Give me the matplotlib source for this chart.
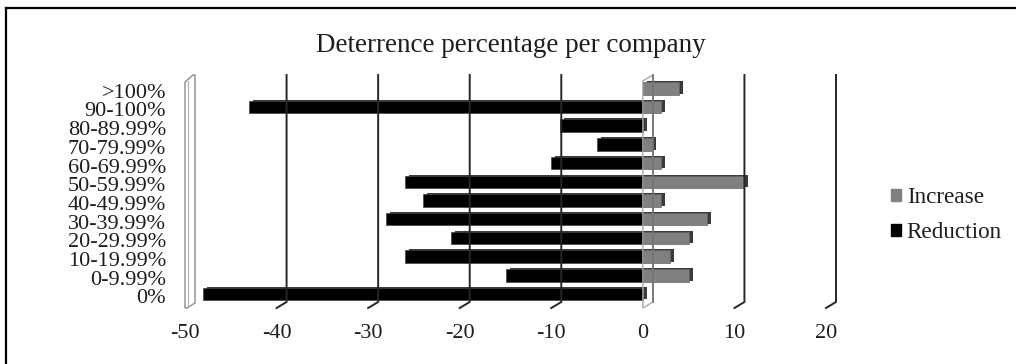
import matplotlib.pyplot as plt
from matplotlib.lines import Line2D
from matplotlib.patches import Patch, Polygon
from matplotlib.transforms import IdentityTransform, ScaledTranslation

# deterrence bands, bottom to top
categories = ["0%", "0-9.99%", "10-19.99%", "20-29.99%", "30-39.99%", "40-49.99%",
              "50-59.99%", "60-69.99%", "70-79.99%", "80-89.99%", "90-100%", ">100%"]
increase = [0, 5, 3, 5, 7, 2, 11, 2, 1, 0, 2, 4]
reduction = [-48, -15, -26, -21, -28, -24, -26, -10, -5, -9, -43, 0]
x_ticks = [-50, -40, -30, -20, -10, 0, 10, 20]

plt.rcParams["font.family"] = ["Liberation Serif", "DejaVu Serif"]
TEXT = "#1e1e1e"

W, H, DPI = 1016, 364, 100
DX, DY = 10, 6          # depth of the back plane, pixels
BAR_DX, BAR_DY = 4, 1   # depth of the bar boxes, pixels

fig = plt.figure(figsize=(W / DPI, H / DPI), dpi=DPI)
ax = fig.add_axes([185 / W, 56 / H, 641 / W, 227 / H])
ax.set_xlim(-50, 20)
ax.set_ylim(-0.75, 11.39)
ax.axis("off")


def px(dx, dy):
    return ax.transData + ScaledTranslation(dx / DPI, dy / DPI, fig.dpi_scale_trans)


def to_px(x, y):
    return ax.transData.transform((x, y))


y = list(range(len(categories)))
ylo, yhi = ax.get_ylim()

# back wall gridlines with their slanted foot
for v in x_ticks[1:]:
    x0, y0 = to_px(v, ylo)
    _, y1 = to_px(v, yhi)
    if v == 0:
        floor = Polygon([(x0, y0), (x0, y1), (x0 + DX, y1 + DY), (x0 + DX, y0 + DY)],
                        closed=True, fill=False, ec="#a8a8a8", lw=1.0,
                        transform=IdentityTransform(), zorder=1)
        fig.add_artist(floor)
        fig.add_artist(Line2D([x0 + DX, x0 + DX], [y0 + DY, y1 + DY], color="#6e6e6e",
                              lw=1.2, transform=IdentityTransform(), zorder=1))
        continue
    fig.add_artist(Line2D([x0, x0 + DX, x0 + DX], [y0, y0 + DY, y1 + DY], color="#262626",
                          lw=1.4, transform=IdentityTransform(), zorder=1))

# thin side wall at the left end of the axis
x0, y0 = to_px(-50, ylo)
_, y1 = to_px(-50, yhi)
wall = Polygon([(x0, y0), (x0, y1 - 1), (x0 + DX - 2, y1 + DY), (x0 + DX, y1 + DY),
                (x0 + DX, y0 + DY - 1), (x0 + 2, y0)],
               closed=True, fc="white", ec="#8c8c8c", lw=1.0,
               transform=IdentityTransform(), zorder=1)
fig.add_artist(wall)
fig.add_artist(Line2D([x0 + 3, x0 + 3], [y0 + 2, y1], color="#b0b0b0", lw=0.8,
                      transform=IdentityTransform(), zorder=1))

# bar boxes: a darker copy pushed back, then the front face
h = 0.67
ax.barh(y, reduction, height=h, color="#3c3c3c", transform=px(BAR_DX, BAR_DY), zorder=2)
ax.barh(y, increase, height=h, color="#3a3a3a", transform=px(BAR_DX, BAR_DY), zorder=2)
ax.barh(y, reduction, height=h, color="black", edgecolor="#444444", lw=0.5, zorder=3)
ax.barh(y, increase, height=h, color="#808080", edgecolor="#666666", lw=0.5, zorder=3)

# category labels
for yi, lab in zip(y, categories):
    ax.text(-50, yi, lab, transform=px(-19, -5), ha="right", va="center",
            fontsize=16, color=TEXT)

# value axis labels
for v in x_ticks:
    ax.text(v, ylo, str(v), transform=px(0, -25), ha="center", va="center",
            fontsize=16, color=TEXT)

fig.text(511 / W, 1 - 45 / H, "Deterrence percentage per company", ha="center",
         va="center", fontsize=19.5, color=TEXT)

handles = [Patch(fc="#808080", ec="#808080"), Patch(fc="black", ec="black")]
fig.legend(handles, ["Increase", "Reduction"], loc="upper left",
           bbox_to_anchor=(891 / W, 1 - 187 / H), frameon=False, fontsize=16.7,
           handlelength=0.43, handleheight=0.43, handletextpad=0.25,
           labelspacing=0.6, borderpad=0, borderaxespad=0, labelcolor=TEXT)

# chart frame (only the top and left edges fall inside the image)
fig.add_artist(Line2D([6 / W, 1], [1 - 8 / H, 1 - 8 / H], color="black", lw=1.6,
                      transform=fig.transFigure))
fig.add_artist(Line2D([6 / W, 6 / W], [1 - 8 / H, 0], color="black", lw=1.6,
                      transform=fig.transFigure))

fig.savefig("out.png", dpi=DPI)
